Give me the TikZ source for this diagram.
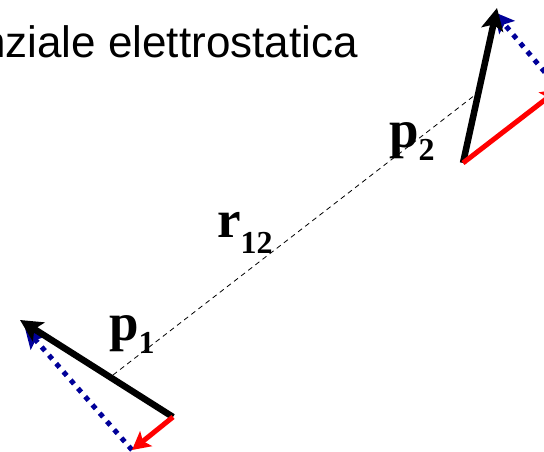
\documentclass[tikz,border=0pt]{standalone}
\usepackage{fontspec}
\setmainfont{Liberation Serif}
\newfontfamily\arialfont{Liberation Sans}
\usetikzlibrary{arrows.meta}
\definecolor{dipblue}{RGB}{0,0,153}
\newcommand{\lowsub}[2]{\raisebox{-#1pt}{\fontsize{32}{32}\selectfont #2}}
\begin{document}
\begin{tikzpicture}[x=1pt,y=-1pt,
  dip/.style={line width=6.5pt, -{Stealth[length=22pt,width=22pt,inset=5pt]}},
  comp/.style={red, line width=5pt, -{Stealth[length=18pt,width=19pt,inset=4pt]}},
  perp/.style={dipblue, line width=5pt, dash pattern=on 5pt off 6pt, -{Stealth[length=20pt,width=20pt,inset=4pt]}},
  sep/.style={line width=0.8pt, dash pattern=on 5pt off 4pt},
  lab/.style={font=\fontsize{53}{53}\selectfont\bfseries, inner sep=0pt, anchor=base west},
  ttl/.style={font=\arialfont\fontsize{44}{44}\selectfont, inner sep=0pt, anchor=base east}]
\useasboundingbox (0,0) rectangle (544,452);
% title
\node[ttl] (title) at (358,58) {nziale elettrostatica};
% points
\coordinate (a1) at (173,417);
\coordinate (b1) at (20,320);
\coordinate (c1) at (132,450);
\coordinate (d1) at (25,328);
\coordinate (a2) at (463,163);
\coordinate (b2) at (497,8);
\coordinate (c2) at (559,89);
\coordinate (d2) at (494,12);
\coordinate (m1) at (113,375);
\coordinate (m2) at (475,95);
% separation
\draw[sep] (m1) -- (m2);
% dipole 1
\draw[perp] (c1) -- (d1);
\draw[dip] (a1) -- (b1);
\draw[comp] (a1) -- (c1);
% dipole 2
\draw[perp] (c2) -- (d2);
\draw[dip] (a2) -- (b2);
\draw[comp] (a2) -- (c2);
% labels
\node[lab] (p1) at (109,340) {p\lowsub{13}{1}};
\node[lab] (p2) at (389,147) {p\lowsub{13}{2}};
\node[lab] (r12) at (217,237) {r\lowsub{16}{12}};
\end{tikzpicture}
\end{document}
